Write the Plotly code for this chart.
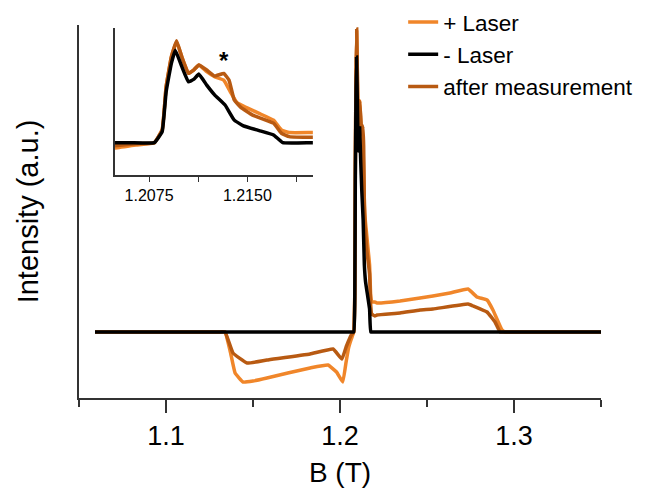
import plotly.graph_objects as go

# ---- data (B in tesla, intensity in arbitrary units) ----
plus_B = [1.0592, 1.0900, 1.1200, 1.1300, 1.1339, 1.1370, 1.1397, 1.1443, 1.1500, 1.1580,
          1.1700, 1.1828, 1.1931, 1.1980, 1.2016, 1.2035, 1.2049, 1.2065, 1.2079, 1.2085,
          1.2088, 1.2092, 1.2096, 1.2100, 1.2105, 1.2109, 1.2113, 1.2119, 1.2125, 1.2132,
          1.2137, 1.2142, 1.2149, 1.2159, 1.2170, 1.2176, 1.2182, 1.2200, 1.2213, 1.2345,
          1.2460, 1.2534, 1.2632, 1.2736, 1.2787, 1.2845, 1.2879, 1.2931, 1.2950, 1.2990,
          1.3100, 1.3300, 1.3500]
plus_I = [0.00, 0.00, 0.00, 0.00, 0.00, -0.20, -0.41, -0.50, -0.49, -0.46,
          -0.41, -0.36, -0.33, -0.40, -0.50, -0.30, -0.16, -0.07, 0.00, 0.38,
          1.66, 2.55, 3.00, 2.55, 2.06, 2.16, 2.31, 2.11, 1.96, 1.86,
          1.51, 1.19, 1.05, 0.87, 0.67, 0.38, 0.30, 0.30, 0.29, 0.31,
          0.34, 0.36, 0.39, 0.43, 0.35, 0.32, 0.22, 0.02, 0.00, 0.00,
          0.00, 0.00, 0.00]

after_B = [1.0592, 1.0900, 1.1200, 1.1300, 1.1339, 1.1385, 1.1466, 1.1580, 1.1828, 1.1960,
           1.2011, 1.2035, 1.2049, 1.2065, 1.2079, 1.2085, 1.2088, 1.2092, 1.2096, 1.2100,
           1.2105, 1.2109, 1.2113, 1.2119, 1.2125, 1.2132, 1.2136, 1.2140, 1.2145, 1.2154,
           1.2170, 1.2176, 1.2182, 1.2200, 1.2213, 1.2345, 1.2460, 1.2534, 1.2736, 1.2766,
           1.2845, 1.2891, 1.2920, 1.2960, 1.3100, 1.3300, 1.3500]
after_I = [0.00, 0.00, 0.00, 0.00, 0.00, -0.21, -0.31, -0.28, -0.22, -0.17,
           -0.27, -0.15, -0.09, -0.03, 0.00, 0.38, 1.66, 2.55, 3.03, 2.55,
           2.06, 2.16, 2.31, 2.16, 1.98, 2.06, 1.86, 1.27, 1.05, 0.82,
           0.58, 0.28, 0.18, 0.16, 0.17, 0.19, 0.22, 0.23, 0.28, 0.26,
           0.20, 0.10, 0.00, 0.00, 0.00, 0.00, 0.00]

minus_B = [1.0592, 1.0900, 1.1200, 1.1500, 1.1800, 1.2000, 1.2060, 1.2079, 1.2085, 1.2088,
           1.2092, 1.2095, 1.2100, 1.2105, 1.2109, 1.2113, 1.2119, 1.2125, 1.2133, 1.2140,
           1.2147, 1.2159, 1.2170, 1.2177, 1.2200, 1.2300, 1.2600, 1.2900, 1.3200, 1.3500]
minus_I = [0.00, 0.00, 0.00, 0.00, 0.00, 0.00, 0.00, 0.00, 0.33, 1.51,
           2.36, 2.75, 2.26, 1.81, 1.88, 2.04, 1.71, 1.42, 1.12, 0.67,
           0.50, 0.36, 0.23, 0.00, 0.00, 0.00, 0.00, 0.00, 0.00, 0.00]

series_names = ["+ Laser", "after measurement", "- Laser"]
main_ticks = [1.1, 1.2, 1.3]
main_minor = [1.05, 1.15, 1.25, 1.35]
inset_ticks = [1.2075, 1.2150]
inset_tick_text = ["1.2075", "1.2150"]
inset_minor = [1.21125, 1.21875]

C_PLUS = "#F0862A"
C_AFTER = "#B85A12"
C_MINUS = "#000000"
FONT = "Liberation Sans, Arial, sans-serif"

fig = go.Figure()
data = [(plus_B, plus_I, C_PLUS, 1), (after_B, after_I, C_AFTER, 3), (minus_B, minus_I, C_MINUS, 2)]
for (bx, iy, col, rank), name in zip(data, series_names):
    fig.add_trace(go.Scatter(x=bx, y=iy, mode="lines", name=name, legendrank=rank,
                             line=dict(color=col, width=3.5, shape="spline", smoothing=0.3),
                             xaxis="x", yaxis="y"))
for (bx, iy, col, rank), name in zip(data, series_names):
    fig.add_trace(go.Scatter(x=bx, y=iy, mode="lines", name=name, showlegend=False,
                             line=dict(color=col, width=3.5, shape="spline", smoothing=0.3),
                             xaxis="x2", yaxis="y2"))

fig.update_layout(
    width=653, height=494,
    margin=dict(l=79, r=52, t=25, b=96, autoexpand=False),
    paper_bgcolor="white", plot_bgcolor="white",
    font=dict(family=FONT, color="black"),
    xaxis=dict(range=[1.05, 1.35], showline=True, linecolor="#333", linewidth=1.5,
               ticks="outside", ticklen=13, tickwidth=1.5, tickcolor="#333",
               tickmode="array", tickvals=main_ticks, ticktext=[f"{v:.1f}" for v in main_ticks],
               tickfont=dict(size=27),
               minor=dict(tickmode="array", tickvals=main_minor, ticks="outside",
                          ticklen=7, tickwidth=1.5, tickcolor="#333"),
               showgrid=False, zeroline=False,
               title=dict(text="B (T)", font=dict(size=28), standoff=12)),
    yaxis=dict(range=[-0.66, 3.07], showline=True, linecolor="#333", linewidth=1.5,
               ticks="", showticklabels=False, showgrid=False, zeroline=False,
               title=dict(text="Intensity (a.u.)", font=dict(size=29), standoff=30)),
    xaxis2=dict(domain=[0.069, 0.448], anchor="y2", range=[1.2049, 1.2200],
                showline=True, linecolor="#333", linewidth=1.5,
                ticks="outside", ticklen=5, tickwidth=1.2, tickcolor="#333",
                tickmode="array", tickvals=inset_ticks, ticktext=inset_tick_text,
                tickfont=dict(size=16),
                minor=dict(tickmode="array", tickvals=inset_minor, ticks="outside",
                           ticklen=5, tickwidth=1.2, tickcolor="#333"),
                showgrid=False, zeroline=False),
    yaxis2=dict(domain=[0.598, 0.992], anchor="x2", range=[-0.96, 3.41],
                showline=True, linecolor="#333", linewidth=1.5,
                ticks="", showticklabels=False, showgrid=False, zeroline=False),
    legend=dict(x=0.621, y=1.065, xanchor="left", yanchor="top",
                font=dict(size=22.5), bgcolor="rgba(0,0,0,0)", tracegroupgap=0),
    annotations=[dict(x=1.2132, y=2.45, xref="x2", yref="y2", text="<b>*</b>",
                      showarrow=False, font=dict(size=24, color="black"))],
)

fig.write_html("out.html")
